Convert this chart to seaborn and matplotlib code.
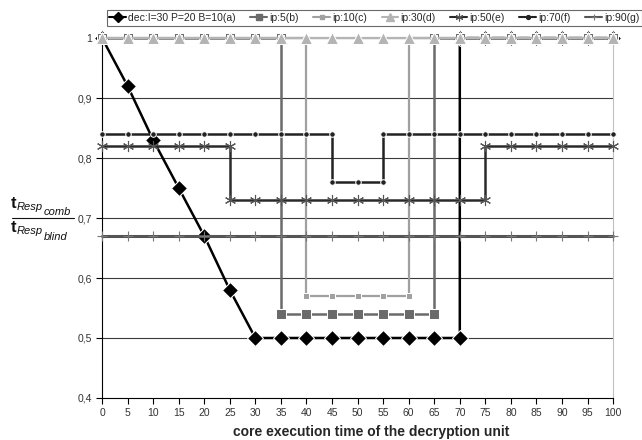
import matplotlib
matplotlib.use("Agg")
import matplotlib.pyplot as plt
from matplotlib.lines import Line2D
import seaborn as sns

# step curves: a repeated x marks the place where a curve jumps
dec_x = [0, 5, 10, 15, 20, 25, 30, 35, 40, 45, 50, 55, 60, 65, 70, 70, 75, 80, 85, 90, 95, 100]
dec_y = [1, 0.92, 0.83, 0.75, 0.67, 0.58, 0.5, 0.5, 0.5, 0.5, 0.5, 0.5, 0.5, 0.5, 0.5, 1, 1, 1, 1, 1, 1, 1]

ip5_x = [0, 5, 10, 15, 20, 25, 30, 35, 35, 40, 45, 50, 55, 60, 65, 65, 70, 75, 80, 85, 90, 95, 100]
ip5_y = [1, 1, 1, 1, 1, 1, 1, 1, 0.54, 0.54, 0.54, 0.54, 0.54, 0.54, 0.54, 1, 1, 1, 1, 1, 1, 1, 1]

ip10_x = [0, 5, 10, 15, 20, 25, 30, 35, 40, 40, 45, 50, 55, 60, 60, 65, 70, 75, 80, 85, 90, 95, 100]
ip10_y = [1, 1, 1, 1, 1, 1, 1, 1, 1, 0.57, 0.57, 0.57, 0.57, 0.57, 1, 1, 1, 1, 1, 1, 1, 1, 1]

ip30_x = [0, 5, 10, 15, 20, 25, 30, 35, 40, 45, 50, 55, 60, 65, 70, 75, 80, 85, 90, 95, 100]
ip30_y = [1, 1, 1, 1, 1, 1, 1, 1, 1, 1, 1, 1, 1, 1, 1, 1, 1, 1, 1, 1, 1]

ip50_x = [0, 5, 10, 15, 20, 25, 25, 30, 35, 40, 45, 50, 55, 60, 65, 70, 75, 75, 80, 85, 90, 95, 100]
ip50_y = [0.82, 0.82, 0.82, 0.82, 0.82, 0.82, 0.73, 0.73, 0.73, 0.73, 0.73, 0.73, 0.73, 0.73, 0.73,
          0.73, 0.73, 0.82, 0.82, 0.82, 0.82, 0.82, 0.82]

ip70_x = [0, 5, 10, 15, 20, 25, 30, 35, 40, 45, 45, 50, 55, 55, 60, 65, 70, 75, 80, 85, 90, 95, 100]
ip70_y = [0.84, 0.84, 0.84, 0.84, 0.84, 0.84, 0.84, 0.84, 0.84, 0.84, 0.76, 0.76, 0.76, 0.84, 0.84,
          0.84, 0.84, 0.84, 0.84, 0.84, 0.84, 0.84, 0.84]

ip90_x = [0, 5, 10, 15, 20, 25, 30, 35, 40, 45, 50, 55, 60, 65, 70, 75, 80, 85, 90, 95, 100]
ip90_y = [0.67, 0.67, 0.67, 0.67, 0.67, 0.67, 0.67, 0.67, 0.67, 0.67, 0.67, 0.67, 0.67, 0.67, 0.67,
          0.67, 0.67, 0.67, 0.67, 0.67, 0.67]

series_labels = ["dec:I=30 P=20 B=10(a)", "ip:5(b)", "ip:10(c)", "ip:30(d)",
                 "ip:50(e)", "ip:70(f)", "ip:90(g)"]
x_ticks = [0, 5, 10, 15, 20, 25, 30, 35, 40, 45, 50, 55, 60, 65, 70, 75, 80, 85, 90, 95, 100]
y_ticks = [0.4, 0.5, 0.6, 0.7, 0.8, 0.9, 1.0]
y_tick_labels = ["0,4", "0,5", "0,6", "0,7", "0,8", "0,9", "1"]

sns.set_style("white")
plt.rcParams['font.family'] = ['Liberation Sans', 'DejaVu Sans']

W, H = 642, 440
fig = plt.figure(figsize=(W / 100, H / 100), dpi=100)
ax = fig.add_axes([0.159, 0.0955, 0.796, 0.818])

# horizontal grid lines drawn underneath everything
for yv in y_ticks[1:]:
    ax.axhline(yv, color="#3a3a3a", lw=0.8, zorder=0)

styles = [
    (dec_x, dec_y, dict(color="black", marker="D", markersize=8, lw=1.8)),
    (ip5_x, ip5_y, dict(color="#6a6a6a", marker="s", markersize=7, lw=1.8)),
    (ip10_x, ip10_y, dict(color="#a0a0a0", marker="s", markersize=5, lw=1.6)),
    (ip30_x, ip30_y, dict(color="#b4b4b4", marker="^", markersize=8, lw=1.6)),
    (ip50_x, ip50_y, dict(color="#2a2a2a", marker=(6, 2, 0), markersize=8, lw=1.8,
                          markeredgewidth=0.8, markeredgecolor="#555555")),
    (ip70_x, ip70_y, dict(color="#222222", marker="o", markersize=4, lw=1.8)),
    (ip90_x, ip90_y, dict(color="#555555", marker="+", markersize=7, lw=2.2,
                          markeredgewidth=0.8, markeredgecolor="#777777")),
]

handles = []
for i, (xs, ys, st) in enumerate(styles):
    sns.lineplot(x=xs, y=ys, ax=ax, estimator=None, sort=False,
                 clip_on=False, zorder=2 + i, **st)
    hs = dict(st)
    hs["markersize"] = st["markersize"] * 0.7
    hs["lw"] = 1.5
    handles.append(Line2D([0], [0], **hs))

ax.set_xlim(0, 100)
ax.set_ylim(0.4, 1.0)
ax.set_xticks(x_ticks)
ax.set_xticklabels([str(v) for v in x_ticks], fontsize=7.5, color="#333333")
ax.set_yticks(y_ticks)
ax.set_yticklabels(y_tick_labels, fontsize=7.5, color="#333333")
ax.tick_params(axis="both", direction="out", length=4, width=0.8, color="black", pad=3,
               bottom=True, left=True)
ax.spines["top"].set_visible(False)
ax.spines["right"].set_color("#c0c0c0")
ax.spines["left"].set_color("black")
ax.spines["bottom"].set_color("black")

leg = fig.legend(handles, series_labels, loc="upper left", ncol=7, fontsize=7.5,
                 bbox_to_anchor=(0.158, 0.988, 0.85, 0.0), mode="expand",
                 handlelength=1.6, handletextpad=0.2, columnspacing=0.4,
                 frameon=True, fancybox=False, borderpad=0.25)
leg.get_frame().set_edgecolor("#444444")
leg.get_frame().set_linewidth(0.8)

ax.set_xlabel("")
ax.set_ylabel("")
fig.text(0.578, 0.018, "core execution time of the decryption unit", fontsize=10,
         fontweight="bold", ha="center", va="center")

# y label: t_Resp_comb / t_Resp_blind, built from pieces (pixel positions)
renderer = fig.canvas.get_renderer()


def piece_row(x_px, parts):
    for txt, size, style, weight, base_px in parts:
        t = fig.text(x_px / W, 1 - base_px / H, txt, fontsize=size, fontstyle=style,
                     fontweight=weight, ha="left", va="baseline", color="#111111")
        x_px += t.get_window_extent(renderer=renderer).width + 0.5


piece_row(11, [("t", 12, "normal", "bold", 208),
               ("Resp", 8, "italic", "normal", 210),
               ("comb", 8, "italic", "normal", 214.5)])
piece_row(11, [("t", 12, "normal", "bold", 232),
               ("Resp", 8, "italic", "normal", 234),
               ("blind", 8, "italic", "normal", 239.5)])
fig.add_artist(Line2D([12 / W, 74 / W], [1 - 218 / H, 1 - 218 / H],
                      color="#111111", lw=0.8))

fig.savefig("out.png", dpi=100)
